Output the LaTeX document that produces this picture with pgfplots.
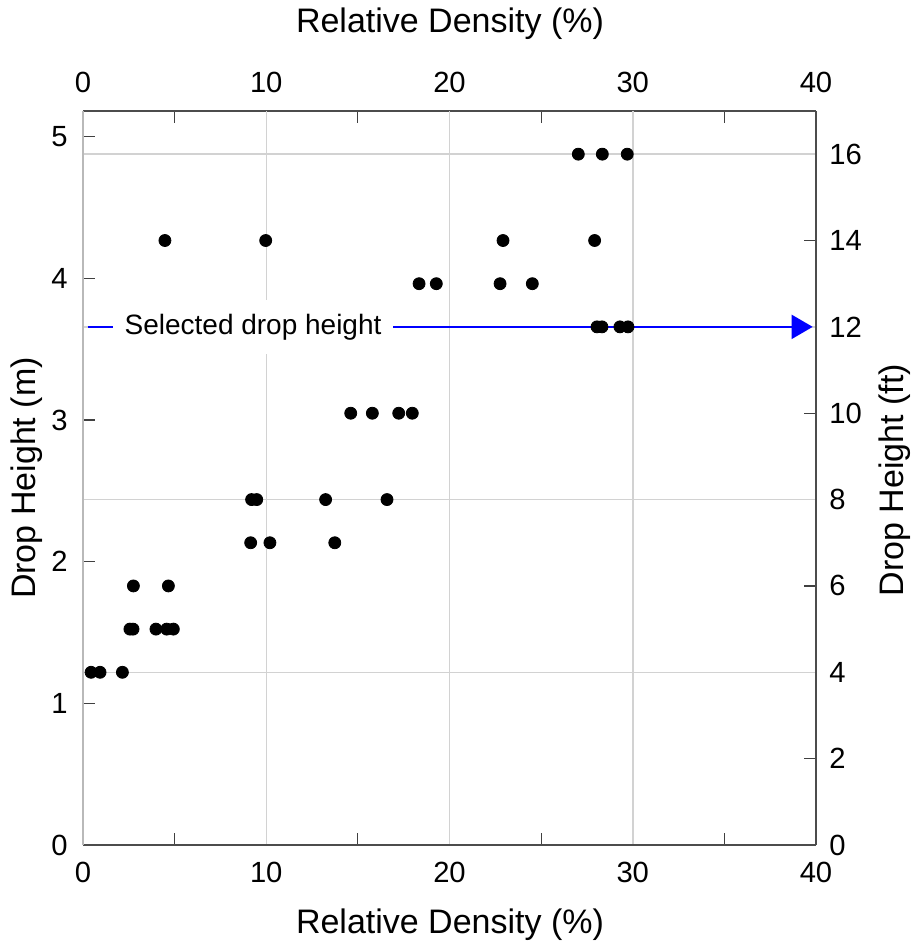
\documentclass[border=0pt]{standalone}
\usepackage{fontspec}
\setmainfont{Liberation Sans}
\usepackage{pgfplots}
\pgfplotsset{compat=1.18}
\usetikzlibrary{arrows.meta}
\begin{document}
\begin{tikzpicture}
\useasboundingbox (-41.5bp,-52bp) rectangle (416.5bp,422.5bp);
\pgfplotsset{
  common/.style={
    scale only axis, width=366.5bp, height=367bp,
    xmin=0, xmax=40,
    tick align=inside,
    major tick length=0pt, minor tick length=6bp,
    every tick/.style={black!75, line width=0.6bp},
    ticklabel style={font=\fontsize{14.6bp}{16bp}\selectfont},
    /pgf/number format/assume math mode=true,
    major grid style={gray!35, line width=0.75bp},
    axis line style={black!70, line width=0.8bp},
    minor xtick={5,15,25,35},
  }
}
% top / right axis (feet)
\begin{axis}[common,
  axis x line*=top, axis y line*=right,
  ymin=0, ymax=17,
  xtick={0,10,20,30,40},
  ytick={4,8,12,16}, minor ytick={2,6,10,14},
  extra y ticks={0,2,6,10,14}, extra tick style={grid=none},
  ymajorgrids,
  xticklabel style={inner sep=0pt, yshift=9bp},
  yticklabel style={inner sep=0pt, xshift=6.5bp},
]
\end{axis}
% bottom / left axis (metres) with data
\begin{axis}[common,
  axis x line*=bottom, axis y line*=left,
  ymin=0, ymax=5.1816,
  xtick={10,20,30}, extra x ticks={0,40}, extra tick style={grid=none},
  ytick={0,1,2,3,4,5}, minor ytick={0,1,2,3,4,5},
  xmajorgrids,
  y axis line style={gray!55},
  xticklabel style={inner sep=0pt, yshift=-8.5bp},
  yticklabel style={inner sep=0pt, xshift=-7.5bp},
]
\addplot[only marks, mark=*, mark size=3bp, black] table {
x y
27.03 4.8768
28.34 4.8768
29.70 4.8768
4.47 4.2672
9.97 4.2672
22.92 4.2672
27.92 4.2672
18.34 3.9624
19.28 3.9624
22.76 3.9624
24.52 3.9624
28.05 3.6576
28.32 3.6576
29.30 3.6576
29.74 3.6576
14.61 3.048
15.79 3.048
17.23 3.048
17.97 3.048
9.20 2.4384
9.48 2.4384
13.24 2.4384
16.59 2.4384
9.15 2.1336
10.20 2.1336
13.74 2.1336
2.75 1.8288
4.66 1.8288
2.56 1.524
2.73 1.524
3.98 1.524
4.57 1.524
4.93 1.524
0.44 1.2192
0.93 1.2192
2.15 1.2192
};
\addplot[blue, line width=0.9bp, -{Triangle[length=10.5bp,width=12bp]}] coordinates {(0.27,3.6576) (39.82,3.6576)};
\node[fill=white, inner xsep=6bp, inner ysep=7bp, font=\fontsize{14bp}{16bp}\selectfont] at (axis cs:9.28,3.6576) {Selected drop height};
\end{axis}
\node[anchor=base, font=\fontsize{17bp}{19bp}\selectfont] at (183.5bp,406bp) {Relative Density (\%)};
\node[anchor=base, font=\fontsize{17bp}{19bp}\selectfont] at (183.5bp,-44bp) {Relative Density (\%)};
\node[anchor=base, rotate=90, font=\fontsize{17bp}{19bp}\selectfont] at (-24bp,183.5bp) {Drop Height (m)};
\node[anchor=base, rotate=90, font=\fontsize{17bp}{19bp}\selectfont] at (410bp,182.5bp) {Drop Height (ft)};
\end{tikzpicture}
\end{document}
